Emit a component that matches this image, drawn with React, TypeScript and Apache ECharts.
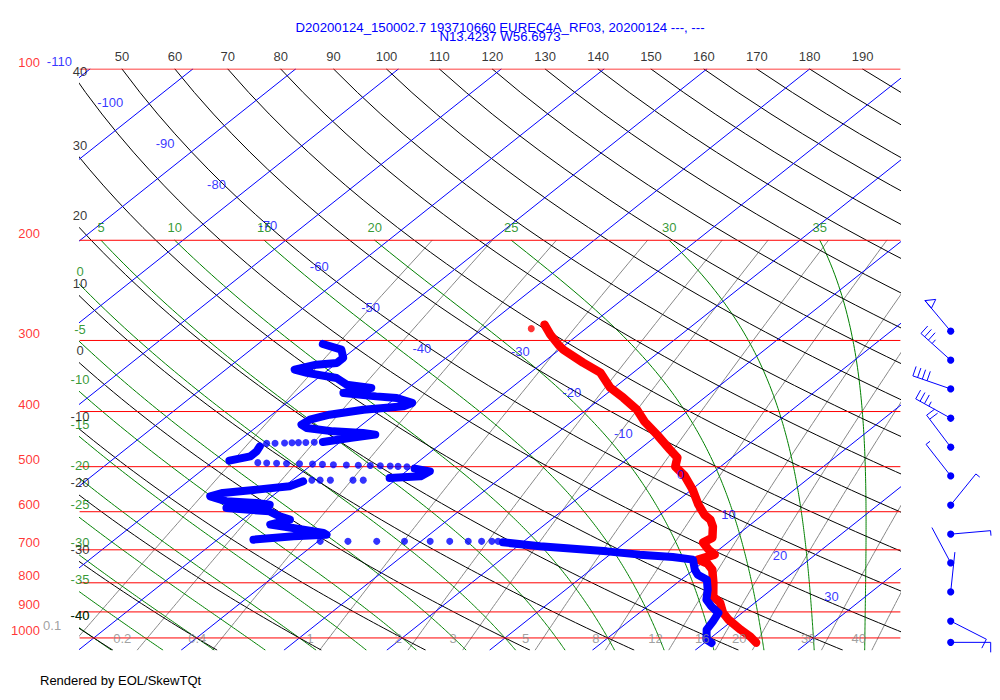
import { useEffect, useRef } from "react";
import * as echarts from "echarts";

// ---------- reference line families ----------
const ISOBARS = [100, 200, 300, 400, 500, 600, 700, 800, 900, 1000];
const ISOTHERMS = [-110, -100, -90, -80, -70, -60, -50, -40, -30, -20, -10, 0, 10, 20, 30];
const DRY_ADIABATS = [-40, -30, -20, -10, 0, 10, 20, 30, 40, 50, 60, 70, 80, 90, 100, 110, 120, 130, 140, 150, 160, 170, 180, 190];
const MOIST_ADIABATS = [-40, -35, -30, -25, -20, -15, -10, -5, 0, 5, 10, 15, 20, 25, 30, 35];
const MIXING_RATIOS = [0.1, 0.2, 0.4, 1, 2, 3, 5, 8, 12, 16, 20, 30, 40];

const TITLE_LINE_1 = "D20200124_150002.7 193710660 EUREC4A_RF03, 20200124 ---, ---";
const TITLE_LINE_2 = "N13.4237 W56.6973";
const FOOTER = "Rendered by EOL/SkewTQt";

// ---------- sounding: [pressure hPa, temperature °C] ----------
const TEMP_PROFILE: [number, number][] = [
  [281.4, -34.5], [293.1, -32.7], [305.2, -30.7], [311.4, -29.6], [328.2, -26.1], [341.7, -23.2],
  [363.2, -20.4], [378.2, -17.9], [397.0, -15.1], [416.7, -12.9], [439.2, -10.1], [466.7, -7.0],
  [482.1, -5.3], [500.0, -4.4], [518.5, -2.4], [548.7, 0.1], [583.1, 2.5], [607.1, 4.3],
  [619.6, 5.5], [637.4, 6.6], [666.4, 7.9], [679.9, 7.6], [699.6, 9.0], [713.8, 10.2],
  [728.4, 9.2], [740.3, 10.6], [758.5, 11.8], [799.5, 13.5], [846.1, 15.2], [866.9, 16.6],
  [902.7, 18.1], [928.6, 19.5], [967.0, 21.9], [994.7, 23.7], [1019.2, 25.0],
];
const TEMP_DOTS: [number, number][] = [[286.0, -35.3]];

// dewpoint: dense runs (drawn as a thick trace) and sparse samples (single dots)
const DEW_RUN_A: [number, number][] = [
  [304.3, -53.7], [311.4, -51.2], [322.0, -50.0], [328.6, -50.0], [330.9, -51.8], [337.6, -53.3],
  [342.1, -51.7], [349.2, -48.2], [358.8, -46.4], [363.6, -43.6], [371.0, -45.7], [376.2, -42.1],
  [378.6, -39.9], [386.3, -37.8], [391.7, -38.2], [397.0, -41.7], [405.1, -44.4], [413.4, -45.7],
  [421.8, -45.9], [427.5, -45.0], [433.4, -42.0], [436.2, -38.9], [439.2, -37.5], [445.1, -39.6],
  [452.4, -41.7],
];
const DEW_DOTS_B: [number, number][] = [
  [453.0, -42.5], [453.3, -43.3], [453.6, -44.0], [454.0, -44.6], [454.3, -45.3], [454.7, -46.2], [455.0, -47.0],
];
const DEW_RUN_C: [number, number][] = [[460.5, -47.3], [469.9, -47.0], [479.5, -47.0], [488.0, -48.5]];
const DEW_DOTS_D: [number, number][] = [
  [491.9, -45.5], [492.5, -44.6], [493.1, -43.6], [493.7, -42.6], [494.2, -41.3], [494.8, -40.0],
  [495.4, -39.0], [496.0, -37.9], [496.6, -36.6], [497.2, -35.4], [497.8, -34.2], [498.2, -33.2],
  [498.8, -32.2], [499.4, -31.4], [500.0, -30.5],
];
const DEW_RUN_E: [number, number][] = [[504.0, -29.5], [509.5, -27.7], [520.0, -28.0], [523.4, -30.8]];
const DEW_DOTS_F: [number, number][] = [[528.0, -33.1], [528.0, -34.1], [528.0, -36.3], [528.0, -37.3], [528.0, -38.1]];
const DEW_RUN_G: [number, number][] = [
  [530.6, -38.8], [541.4, -39.5], [548.7, -42.3], [556.1, -45.2], [563.8, -46.0], [575.3, -43.8],
  [579.1, -40.7], [583.1, -39.2], [591.0, -43.0], [599.1, -38.4], [611.3, -36.8], [619.6, -35.4],
  [632.2, -36.7], [640.7, -34.1], [653.8, -30.5], [658.4, -30.0], [662.8, -33.0], [671.8, -36.5],
];
const DEW_DOTS_H: [number, number][] = [
  [676.4, -29.8], [676.4, -27.1], [676.4, -24.3], [676.4, -21.6], [676.4, -19.1],
  [676.4, -17.2], [676.4, -15.4], [676.4, -14.1], [676.4, -13.1], [676.4, -12.5],
];
const DEW_RUN_I: [number, number][] = [
  [679.1, -11.9], [690.2, -7.8], [704.4, -0.7], [713.8, 2.9], [720.5, 6.4], [728.4, 8.7],
  [758.5, 10.1], [774.0, 11.0], [789.8, 12.5], [822.4, 13.8], [856.4, 14.9], [879.9, 16.2],
  [903.8, 17.7], [935.0, 18.2], [967.0, 18.6], [1006.9, 19.8], [1020.4, 20.7],
];

// ---------- winds ----------
const WIND_P = [289, 325, 365, 411, 462, 519, 584, 657, 738, 830, 934, 1018];
const WIND_DIR = [320, 312, 289, 299, 323, 322, 39, 85, 332, 6, 117, 90];
const WIND_SPD = [50, 35, 40, 35, 20, 5, 5, 5, 0, 0, 10, 10];

// ---------- diagram geometry ----------
const SKEW = 30.24; // °C per ln(p) unit
const KAPPA = 0.2886;
const XMIN = -41.34;
const XMAX = 38.42;
const PTOP = 100;
const PBOT = 1050;
const FONT = '"Liberation Sans", Arial, Helvetica, sans-serif';

const RED = "#ff0000";
const BLUE = "#0000ff";
const GREEN = "#008000";
const GREY = "#888888";

const xOf = (t: number, p: number) => t + SKEW * Math.log(1000 / p);
const pRange = (top: number, bot: number, step: number) => {
  const a: number[] = [];
  for (let p = top; p < bot; p += step) a.push(p);
  a.push(bot);
  return a;
};

function dewFromMix(w: number, p: number) {
  const e = (w * p) / (622 + w);
  const l = Math.log(e / 6.112);
  return (243.5 * l) / (17.67 - l);
}

function moistCurve(thw: number): [number, number][] {
  const Rd = 287.04, Cp = 1005.7, eps = 0.622;
  const f = (T: number, p: number) => {
    const tc = T - 273.15;
    const Lv = 2.501e6 - 2370 * tc;
    const es = 6.112 * Math.exp((17.67 * tc) / (tc + 243.5));
    const rs = (eps * es) / (p - es);
    return (Rd * T + Lv * rs) / (Cp + (Lv * Lv * rs * eps) / (Rd * T * T)) / p;
  };
  const step = (T: number, p: number, h: number) => {
    const k1 = f(T, p);
    const k2 = f(T + (h / 2) * k1, p + h / 2);
    const k3 = f(T + (h / 2) * k2, p + h / 2);
    const k4 = f(T + h * k3, p + h);
    return T + (h / 6) * (k1 + 2 * k2 + 2 * k3 + k4);
  };
  const up: [number, number][] = [];
  let T = thw + 273.15;
  for (let p = 1000; p > 200; p -= 5) {
    T = step(T, p, -5);
    up.push([T, p - 5]);
  }
  up.reverse();
  const pts: [number, number][] = [...up, [thw + 273.15, 1000]];
  T = thw + 273.15;
  for (let p = 1000; p < 1050; p += 5) {
    T = step(T, p, 5);
    pts.push([T, p + 5]);
  }
  return pts.map(([tk, p]) => [xOf(tk - 273.15, p), p]);
}

// where a curve (ordered top→bottom) enters the plot: top edge or left edge
function entryPoint(pts: [number, number][]): [number, number] | null {
  if (pts[0][0] >= XMIN && pts[0][0] <= XMAX) return pts[0];
  for (let i = 1; i < pts.length; i++) {
    const [x0, p0] = pts[i - 1];
    const [x1, p1] = pts[i];
    if ((x0 - XMIN) * (x1 - XMIN) <= 0 && x0 !== x1) {
      const f = (XMIN - x0) / (x1 - x0);
      const lp = Math.log(p0) + f * (Math.log(p1) - Math.log(p0));
      return [XMIN, Math.exp(lp)];
    }
  }
  return null;
}

type Lab = { value: [number, number]; text: string; color: string; align?: string; offset: [number, number] };

function lineSeries(data: [number, number][], color: string, width: number, z: number) {
  return {
    type: "line",
    data,
    symbol: "none",
    silent: true,
    clip: true,
    z,
    lineStyle: { color, width, cap: "round", join: "round" },
  };
}

function barbElements(cx: number, cy: number, dir: number, spd: number) {
  const rad = (dir * Math.PI) / 180;
  const ux = Math.sin(rad);
  const uy = -Math.cos(rad);
  const px = -uy;
  const py = ux;
  const SH = 40;
  const BL = 10;
  const SP = 5;
  const style = { stroke: BLUE, lineWidth: 1, fill: null };
  const kids: any[] = [];
  kids.push({ type: "line", shape: { x1: cx, y1: cy, x2: cx + SH * ux, y2: cy + SH * uy }, style });
  let s = Math.round(spd / 5) * 5;
  let pos = SH;
  const at = (d: number) => [cx + d * ux, cy + d * uy];
  while (s >= 50) {
    const a = at(pos);
    const b = at(pos - 10);
    const m = at(pos - 6);
    kids.push({ type: "polygon", shape: { points: [a, [m[0] + 9 * px, m[1] + 9 * py], b] }, style });
    pos -= 12;
    s -= 50;
  }
  while (s >= 10) {
    const a = at(pos);
    kids.push({ type: "line", shape: { x1: a[0], y1: a[1], x2: a[0] + BL * px, y2: a[1] + BL * py }, style });
    pos -= SP;
    s -= 10;
  }
  if (s >= 5) {
    const a = at(pos);
    kids.push({ type: "line", shape: { x1: a[0], y1: a[1], x2: a[0] + (BL / 2) * px, y2: a[1] + (BL / 2) * py }, style });
  }
  kids.push({ type: "circle", shape: { cx, cy, r: 3.6 }, style: { fill: BLUE, stroke: null } });
  return kids;
}

function buildOption() {
  const series: any[] = [];
  const labels: Lab[] = [];

  // mixing ratio lines
  MIXING_RATIOS.forEach((w) => {
    const pts = pRange(200, PBOT, 10).map((p) => [xOf(dewFromMix(w, p), p), p] as [number, number]);
    series.push(lineSeries(pts, GREY, 1, 1));
    const xb = xOf(dewFromMix(w, PBOT), PBOT);
    labels.push({
      value: [xb, 1000],
      text: String(w),
      color: GREY,
      align: "right",
      offset: [-6, xb < XMIN ? -12 : 1],
    });
  });

  // moist adiabats
  MOIST_ADIABATS.forEach((t) => {
    const pts = moistCurve(t);
    series.push(lineSeries(pts, GREEN, 1, 2));
    const e = entryPoint(pts);
    if (e) labels.push({ value: e, text: String(t), color: GREEN, offset: [0, -13] });
  });

  // dry adiabats
  DRY_ADIABATS.forEach((th) => {
    const pts = pRange(PTOP, PBOT, 10).map(
      (p) => [xOf((th + 273.15) * Math.pow(p / 1000, KAPPA) - 273.15, p), p] as [number, number]
    );
    series.push(lineSeries(pts, "#000000", 1, 3));
    const e = entryPoint(pts);
    if (e) labels.push({ value: e, text: String(th), color: "#000000", offset: [0, -13] });
  });

  // isotherms
  ISOTHERMS.forEach((t) => {
    series.push(lineSeries([[xOf(t, PBOT), PBOT], [xOf(t, PTOP), PTOP]], BLUE, 1, 4));
    const L = t <= -40 ? 2.3312 - 0.016552 * (t + 110) : 1.1586 - 0.016512 * (t + 30);
    const p = 1000 * Math.exp(-L);
    labels.push({ value: [xOf(t, p), p], text: String(t), color: BLUE, align: "right", offset: [-27, 0] });
  });

  // isobars
  ISOBARS.forEach((p) => {
    series.push(lineSeries([[XMIN, p], [XMAX, p]], RED, 1, 5));
    labels.push({ value: [XMIN, p], text: String(p), color: RED, align: "right", offset: [-40, -7] });
  });

  // sounding
  const toXY = (a: [number, number][]) => a.map(([p, t]) => [xOf(t, p), p] as [number, number]);
  series.push(lineSeries(toXY(TEMP_PROFILE), RED, 8.5, 20));
  [DEW_RUN_A, DEW_RUN_C, DEW_RUN_E, DEW_RUN_G, DEW_RUN_I].forEach((run) =>
    series.push(lineSeries(toXY(run), BLUE, 8, 21))
  );
  series.push({
    type: "scatter",
    data: toXY(TEMP_DOTS),
    symbol: "circle",
    symbolSize: 7,
    itemStyle: { color: RED },
    silent: true,
    z: 20,
  });
  series.push({
    type: "scatter",
    data: toXY([...DEW_DOTS_B, ...DEW_DOTS_D, ...DEW_DOTS_F, ...DEW_DOTS_H]),
    symbol: "circle",
    symbolSize: 7,
    itemStyle: { color: BLUE },
    silent: true,
    z: 21,
  });

  // wind barbs
  series.push({
    type: "custom",
    coordinateSystem: "cartesian2d",
    data: WIND_P.map((p, i) => [XMIN, p, WIND_DIR[i], WIND_SPD[i]]),
    encode: { x: 0, y: 1 },
    silent: true,
    clip: false,
    z: 30,
    renderItem: (params: any, api: any) => {
      const pt = api.coord([api.value(0), api.value(1)]);
      const cs = params.coordSys;
      const cx = cs.x + cs.width + 50.7;
      return { type: "group", children: barbElements(cx, pt[1], api.value(2), api.value(3)) };
    },
  });

  // text labels for lines
  series.push({
    type: "scatter",
    symbol: "circle",
    symbolSize: 1,
    itemStyle: { color: "rgba(0,0,0,0)" },
    silent: true,
    clip: false,
    z: 40,
    data: labels.map((l) => ({
      value: l.value,
      label: {
        show: true,
        position: "inside",
        formatter: l.text,
        color: l.color,
        align: l.align || "center",
        verticalAlign: "middle",
        offset: l.offset,
        fontSize: 13,
        fontFamily: FONT,
      },
    })),
  });

  return {
    animation: false,
    backgroundColor: "#ffffff",
    grid: { left: 80, right: 100, top: 69, bottom: 50 },
    xAxis: { type: "value", min: XMIN, max: XMAX, show: false },
    yAxis: { type: "log", logBase: 10, min: PTOP, max: PBOT, inverse: true, show: false },
    graphic: [
      {
        type: "text",
        x: 500,
        y: 27,
        style: { text: TITLE_LINE_1, fill: BLUE, font: `13.2px ${FONT}`, textAlign: "center", textVerticalAlign: "middle" },
      },
      {
        type: "text",
        x: 500,
        y: 36.5,
        style: { text: TITLE_LINE_2, fill: BLUE, font: `13.2px ${FONT}`, textAlign: "center", textVerticalAlign: "middle" },
      },
      {
        type: "text",
        x: 40,
        y: 680,
        style: { text: FOOTER, fill: "#000000", font: `13px ${FONT}`, textAlign: "left", textVerticalAlign: "middle" },
      },
    ],
    series,
  };
}

export default function App() {
  const ref = useRef<HTMLDivElement>(null);
  useEffect(() => {
    document.body.style.margin = "0";
    const chart = echarts.init(ref.current as HTMLDivElement, undefined, { renderer: "svg" });
    chart.setOption(buildOption() as any);
    return () => chart.dispose();
  }, []);
  return (
    <div
      ref={ref}
      style={{ position: "absolute", left: 0, top: 0, width: 1000, height: 700, background: "#ffffff" }}
    />
  );
}
